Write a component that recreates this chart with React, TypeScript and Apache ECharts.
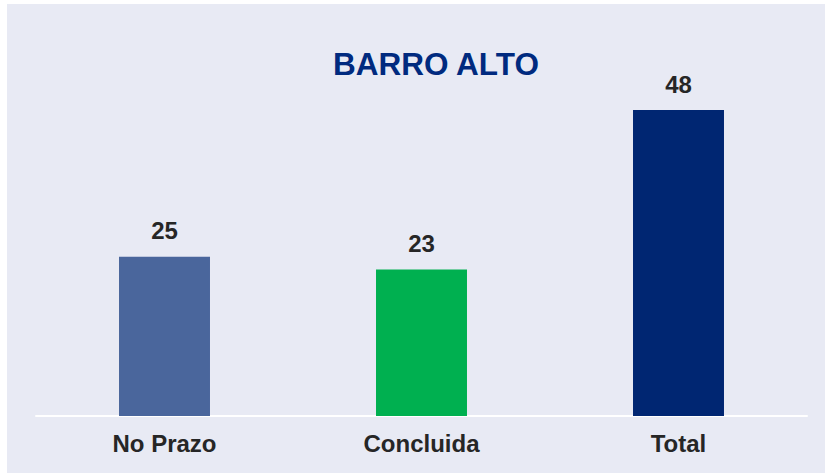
import React, { useEffect, useRef } from "react";
import * as echarts from "echarts";

const categories = ["No Prazo", "Concluida", "Total"];
const values = [25, 23, 48];
const barColors = ["#4A669C", "#00B050", "#002672"];
const titleText = "BARRO ALTO";

export default function App() {
  const ref = useRef<HTMLDivElement>(null);
  useEffect(() => {
    if (!ref.current) return;
    const chart = echarts.init(ref.current, undefined, { renderer: "svg" });
    chart.setOption({
      animation: false,
      backgroundColor: "#E8EAF4",
      title: {
        text: titleText,
        left: 326,
        top: 44,
        padding: 0,
        textStyle: {
          fontFamily: "Liberation Sans, Arial, sans-serif",
          fontSize: 31.5,
          fontWeight: "bold",
          color: "#002A7F",
        },
      },
      grid: { left: 29, right: 18, top: 29.5, bottom: 57 },
      xAxis: {
        type: "category",
        data: categories,
        axisLine: { lineStyle: { color: "#FFFFFF", width: 2 } },
        axisTick: { show: false },
        axisLabel: {
          margin: 15,
          fontFamily: "Liberation Sans, Arial, sans-serif",
          fontSize: 24,
          fontWeight: "bold",
          color: "#262626",
        },
      },
      yAxis: {
        type: "value",
        min: 0,
        max: 60,
        show: false,
        splitLine: { show: false },
      },
      series: [
        {
          type: "bar",
          barWidth: "35.4%",
          data: values.map((v, i) => ({ value: v, itemStyle: { color: barColors[i] } })),
          label: {
            show: true,
            position: "top",
            distance: 14,
            fontFamily: "Liberation Sans, Arial, sans-serif",
            fontSize: 24,
            fontWeight: "bold",
            color: "#262626",
          },
        },
      ],
    });
    return () => chart.dispose();
  }, []);
  return (
    <div
      ref={ref}
      style={{ position: "fixed", left: 7, top: 4, width: 818, height: 469 }}
    />
  );
}
